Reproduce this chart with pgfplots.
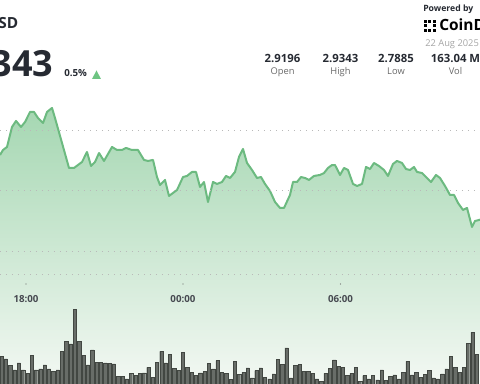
\documentclass[border=0pt]{standalone}
\usepackage{pgfplots}
\usepackage{pgfplotstable}
\pgfplotsset{compat=1.18}
\usepackage{fontspec}
\setmainfont{Open Sans}
\definecolor{lineg}{RGB}{108,186,128}
\definecolor{fillt}{RGB}{165,215,178}
\definecolor{fillm}{RGB}{212,236,218}
\definecolor{fillb}{RGB}{243,248,243}
\definecolor{barf}{RGB}{104,109,104}
\definecolor{bard}{RGB}{66,71,66}
\definecolor{gridc}{RGB}{185,185,185}
\definecolor{txtd}{RGB}{38,42,50}
\definecolor{txtg}{RGB}{105,105,105}
\definecolor{txtl}{RGB}{165,165,165}
\definecolor{upg}{RGB}{110,196,130}

% price: hour of day (24 = 00:00 next day), price in USD
\pgfplotstableread{
h p
17.006 2.8767
17.121 2.8828
17.274 2.8865
17.465 2.9110
17.618 2.9184
17.809 2.9110
17.962 2.9171
18.153 2.9294
18.306 2.9294
18.459 2.9220
18.650 2.9159
18.803 2.9294
18.994 2.9343
19.108 2.9220
19.376 2.8914
19.643 2.8608
19.834 2.8608
20.140 2.8681
20.331 2.8804
20.484 2.8632
20.637 2.8681
20.790 2.8791
20.981 2.8694
21.287 2.8865
21.478 2.8828
21.669 2.8828
21.822 2.8853
22.051 2.8828
22.280 2.8828
22.510 2.8706
22.662 2.8694
22.854 2.8706
23.006 2.8497
23.121 2.8399
23.312 2.8461
23.465 2.8265
23.771 2.8338
24.000 2.8497
24.153 2.8510
24.344 2.8559
24.497 2.8559
24.650 2.8375
24.803 2.8436
24.955 2.8191
25.146 2.8436
25.299 2.8412
25.490 2.8436
25.643 2.8510
25.796 2.8485
25.987 2.8559
26.140 2.8743
26.293 2.8841
26.446 2.8669
26.637 2.8583
26.828 2.8485
26.981 2.8497
27.134 2.8412
27.325 2.8326
27.516 2.8191
27.707 2.8118
27.860 2.8118
28.089 2.8277
28.204 2.8436
28.357 2.8436
28.510 2.8497
28.662 2.8485
28.815 2.8461
29.006 2.8510
29.236 2.8522
29.389 2.8546
29.541 2.8608
29.694 2.8644
29.809 2.8644
30.000 2.8522
30.153 2.8608
30.306 2.8583
30.497 2.8412
30.650 2.8387
30.841 2.8412
30.994 2.8620
31.146 2.8595
31.299 2.8669
31.490 2.8632
31.682 2.8583
31.834 2.8510
32.025 2.8657
32.178 2.8694
32.369 2.8669
32.522 2.8595
32.675 2.8583
32.828 2.8620
32.943 2.8559
33.134 2.8546
33.287 2.8497
33.478 2.8436
33.669 2.8522
33.822 2.8485
34.013 2.8387
34.204 2.8277
34.357 2.8277
34.510 2.8179
34.701 2.8093
34.854 2.8118
35.045 2.7885
35.159 2.7958
35.350 2.7974
}\price

% volume per 10-minute interval (relative units)
\pgfplotstableread{
i v
1 27.7
2 25.0
3 18.3
4 14.0
5 21.0
6 14.0
7 10.7
8 28.3
9 14.0
10 15.0
11 19.0
12 15.0
13 12.3
14 14.0
15 32.7
16 42.3
17 40.0
18 74.3
19 42.3
20 28.3
21 19.0
22 34.0
23 21.7
24 21.7
25 21.0
26 20.7
27 20.0
28 7.7
29 7.7
30 5.0
31 10.7
32 8.3
33 10.7
34 11.0
35 16.7
36 6.7
37 21.7
38 32.7
39 21.0
40 29.3
41 15.7
42 13.3
43 31.7
44 16.7
45 11.7
46 8.3
47 11.0
48 12.3
49 20.7
50 15.0
51 23.3
52 11.7
53 10.7
54 4.7
55 22.7
56 9.3
57 11.7
58 16.0
59 6.0
60 13.3
61 16.0
62 6.7
63 5.0
64 10.0
65 24.3
66 19.3
67 36.0
68 6.0
69 18.3
70 19.3
71 12.7
72 12.7
73 10.7
74 5.0
75 2.7
76 10.7
77 15.7
78 24.0
79 17.7
80 16.7
81 8.3
82 10.7
83 16.7
84 2.7
85 8.3
86 5.0
87 8.3
88 4.0
89 14.0
90 3.3
91 7.3
92 9.0
93 5.0
94 11.7
95 22.7
96 9.0
97 11.7
98 6.7
99 9.3
100 13.3
101 6.0
102 5.0
103 10.0
104 15.0
105 27.3
106 16.7
107 11.7
108 16.7
109 40.7
110 51.7
111 29.3
}\vol

\begin{document}
\begin{tikzpicture}
% price area and line
\begin{axis}[scale only axis, width=360pt, height=288pt, at={(0,0)}, anchor=south west,
  xmin=17.006, xmax=35.350, ymin=2.5961, ymax=3.0666,
  axis line style={draw=none}, xtick=\empty,
  ytick={2.7297,2.7579,2.8338,2.9073}, yticklabels={}, major tick length=0pt,
  ymajorgrids, major grid style={gridc, dash pattern=on 0.8pt off 3.7pt, line width=0.7pt},
  axis on top]
\addplot[draw=none, top color=fillt, middle color=fillm, bottom color=fillb] table[x=h,y=p] {\price} \closedcycle;
\addplot[lineg, line width=1.5pt, line join=round] table[x=h,y=p] {\price};
\end{axis}
% volume bars
\begin{axis}[scale only axis, width=360pt, height=288pt, at={(0,0)}, anchor=south west,
  xmin=0.653, xmax=111.76, ymin=0, ymax=384, hide axis]
\addplot[ybar, bar width=0.76, fill=barf, draw=bard, line width=0.3pt] table[x=i,y=v] {\vol};
\end{axis}
% texts, in pixel units from the top left corner
\begin{scope}[shift={(0,288pt)}, x=0.75pt, y=-0.75pt]
\node[anchor=base east, inner sep=0, text=txtd, font=\bfseries\fontsize{11.5}{12}\selectfont] at (18.5,29) {XRP/USD};
\node[anchor=base east, inner sep=0, text=txtd, font=\bfseries\fontsize{27}{28}\selectfont] at (53.5,77) {2.9343};
\node[anchor=base west, inner sep=0, text=txtd, font=\bfseries\fontsize{7.3}{8}\selectfont] at (64,77) {0.5\%};
\fill[upg] (92,79) -- (101,79) -- (96.5,70.5) -- cycle;
\node[anchor=base west, inner sep=0, text=txtd, font=\bfseries\fontsize{6.5}{7}\selectfont] at (423,11.5) {Powered by};
\foreach \a/\b in {424/20,428.5/20,433/20,424/24.5,424/29,428.5/29,433/29,433/24.5}{
  \fill[black] (\a,\b) rectangle ++(2.6,2.6);}
\node[anchor=base west, inner sep=0, text=black, font=\bfseries\fontsize{11.6}{12}\selectfont] at (439,31) {CoinDesk};
\node[anchor=base west, inner sep=0, text=txtl, font=\fontsize{7}{8}\selectfont] at (425,47) {22 Aug 2025};
\foreach \x/\n/\l in {282.5/2.9196/Open,340.5/2.9343/High,396/2.7885/Low,455.5/163.04 M/Vol}{
  \node[anchor=base, inner sep=0, text=txtd, font=\bfseries\fontsize{8.5}{9}\selectfont] at (\x,63) {\n};
  \node[anchor=base, inner sep=0, text=txtg, font=\fontsize{7}{8}\selectfont] at (\x,75) {\l};}
\foreach \x/\t in {26/18:00,183/00:00,340.5/06:00}{
  \fill[txtg] (\x,284) circle (0.45pt);
  \node[anchor=base, inner sep=0, text=txtd!85, font=\bfseries\fontsize{7.3}{8}\selectfont] at (\x,303) {\t};}
\pgfresetboundingbox
\path (0,0) rectangle (480,384);
\end{scope}
\end{tikzpicture}
\end{document}
